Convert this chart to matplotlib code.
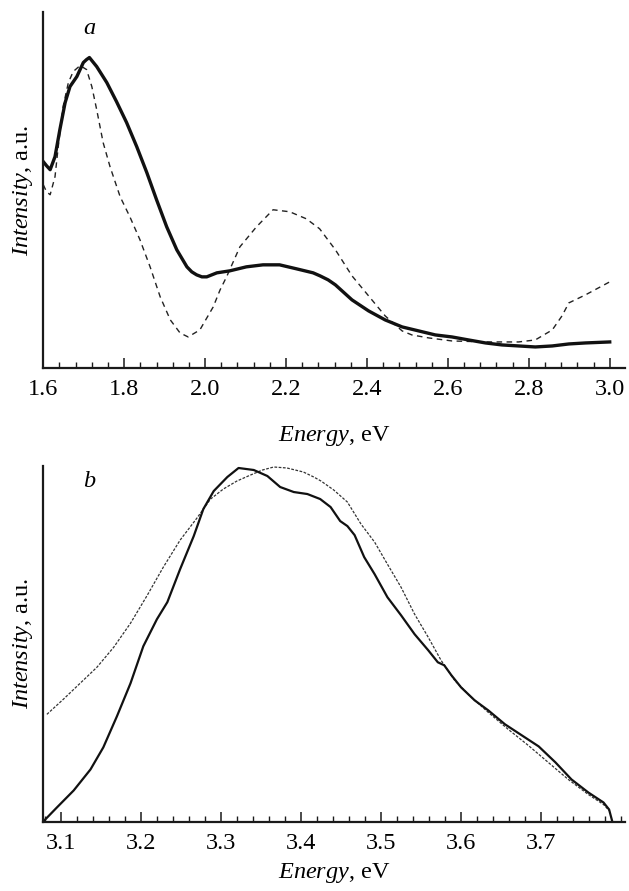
import matplotlib
matplotlib.use('Agg')
import matplotlib.pyplot as plt
from matplotlib.ticker import MultipleLocator

plt.rcParams['font.family'] = ['Liberation Serif', 'DejaVu Serif']
plt.rcParams['mathtext.fontset'] = 'custom'
plt.rcParams['mathtext.it'] = 'Liberation Serif:italic'
plt.rcParams['mathtext.rm'] = 'Liberation Serif'

# ---------------- data (panel a) ----------------
a_solid_E = [1.600, 1.608, 1.617, 1.629, 1.641, 1.654, 1.666, 1.683, 1.699, 1.707,
             1.714, 1.722, 1.732, 1.757, 1.781, 1.806, 1.831, 1.856, 1.880, 1.905,
             1.930, 1.955, 1.967, 1.979, 1.992, 2.004, 2.029, 2.061, 2.102, 2.143,
             2.184, 2.226, 2.267, 2.284, 2.304, 2.322, 2.363, 2.404, 2.445, 2.487,
             2.528, 2.569, 2.610, 2.651, 2.693, 2.734, 2.775, 2.816, 2.858, 2.899,
             2.940, 3.000]
a_solid_I = [206, 202, 198, 211, 238, 265, 281, 291, 305, 308,
             310, 306, 301, 285, 266, 245, 221, 195, 168, 141,
             118, 101, 96, 93, 91, 91, 95, 97, 101, 103,
             103, 99, 95, 92, 88, 83, 68, 57, 48, 41,
             37, 33, 31, 28, 25, 23, 22, 21, 22, 24,
             25, 26]

a_dash_E = [1.600, 1.608, 1.617, 1.629, 1.637, 1.649, 1.662, 1.674, 1.691, 1.707,
            1.720, 1.732, 1.748, 1.765, 1.790, 1.814, 1.839, 1.864, 1.889, 1.914,
            1.938, 1.958, 1.987, 2.020, 2.037, 2.053, 2.086, 2.127, 2.168, 2.209,
            2.250, 2.283, 2.322, 2.363, 2.404, 2.445, 2.487, 2.511, 2.553, 2.610,
            2.693, 2.775, 2.816, 2.858, 2.882, 2.899, 2.940, 3.000]
a_dash_I = [183, 176, 173, 191, 221, 261, 285, 296, 302, 298,
            281, 258, 225, 201, 171, 151, 128, 101, 71, 48,
            35, 31, 38, 61, 78, 91, 121, 141, 158, 156,
            149, 139, 118, 92, 72, 52, 37, 33, 30, 27,
            26, 26, 28, 38, 52, 65, 73, 86]

# ---------------- data (panel b) ----------------
b_solid_E = [3.078, 3.095, 3.116, 3.137, 3.153, 3.170, 3.187, 3.203, 3.220, 3.233,
             3.249, 3.266, 3.278, 3.291, 3.308, 3.322, 3.341, 3.358, 3.374, 3.391,
             3.408, 3.424, 3.437, 3.449, 3.458, 3.467, 3.479, 3.492, 3.508, 3.525,
             3.542, 3.559, 3.571, 3.579, 3.588, 3.600, 3.617, 3.634, 3.655, 3.676,
             3.697, 3.718, 3.738, 3.759, 3.778, 3.785, 3.789]
b_solid_I = [0, 14, 31, 52, 74, 105, 138, 175, 202, 219,
             252, 285, 312, 330, 344, 353, 351, 345, 334, 329,
             327, 322, 314, 300, 295, 286, 264, 247, 224, 206,
             187, 171, 159, 156, 146, 134, 121, 111, 97, 86,
             75, 59, 42, 29, 19, 12, 0]

b_dash_E = [3.0825, 3.103, 3.124, 3.145, 3.166, 3.187, 3.208, 3.228, 3.249, 3.270,
            3.287, 3.303, 3.320, 3.337, 3.352, 3.366, 3.3825, 3.403, 3.416, 3.425,
            3.441, 3.458, 3.475, 3.492, 3.508, 3.525, 3.542, 3.559, 3.575, 3.592,
            3.609, 3.634, 3.659, 3.684, 3.709, 3.734, 3.759, 3.778, 3.785]
b_dash_I = [107, 122, 138, 154, 174, 198, 226, 254, 281, 303,
            322, 332, 340, 346, 351, 354, 353, 349, 344, 340,
            331, 319, 297, 279, 257, 234, 207, 184, 161, 141,
            127, 109, 92, 76, 59, 42, 27, 17, 11]

a_ticks = [1.6, 1.8, 2.0, 2.2, 2.4, 2.6, 2.8, 3.0]
b_ticks = [3.1, 3.2, 3.3, 3.4, 3.5, 3.6, 3.7]

FS = 17.5
xlabel = r'$\mathit{Energy}$, eV'
ylabel = r'$\mathit{Intensity}$, a.u.'

fig = plt.figure(figsize=(6.29, 8.91), dpi=100)
ax_a = fig.add_axes([0.0688, 0.587, 0.925, 0.399])
ax_b = fig.add_axes([0.0688, 0.078, 0.925, 0.399])


def style(ax, xlim, ticks, minor, pad, lpad):
    ax.set_xlim(*xlim)
    ax.set_ylim(0, 355)
    for s in ['top', 'right']:
        ax.spines[s].set_visible(False)
    for s in ['left', 'bottom']:
        ax.spines[s].set_linewidth(1.6)
        ax.spines[s].set_color('#1a1a1a')
    ax.set_yticks([])
    ax.set_xticks(ticks)
    ax.set_xticklabels([f'{t:.1f}' for t in ticks])
    ax.xaxis.set_minor_locator(MultipleLocator(minor))
    ax.tick_params(axis='x', which='major', direction='in', length=7, width=1.1,
                   labelsize=FS, pad=pad, color='#1a1a1a')
    ax.tick_params(axis='x', which='minor', direction='in', length=4.5, width=1.0,
                   color='#1a1a1a')
    ax.set_xlabel(xlabel, fontsize=FS, labelpad=lpad)
    ax.set_ylabel(ylabel, fontsize=FS, labelpad=6)


ax_a.plot(a_dash_E, a_dash_I, color='#222222', lw=1.0, ls=(0, (4, 3.2)))
ax_a.plot(a_solid_E, a_solid_I, color='#111111', lw=2.4, solid_joinstyle='round')
style(ax_a, (1.6, 3.038), a_ticks, 0.04, 8, 17)
ax_a.text(0.080, 0.955, r'$\mathit{a}$', transform=ax_a.transAxes, fontsize=FS,
          ha='center', va='center')

ax_b.plot(b_dash_E, b_dash_I, color='#333333', lw=0.9, ls=(0, (2.2, 1.2)))
ax_b.plot(b_solid_E, b_solid_I, color='#111111', lw=1.6, solid_joinstyle='round')
style(ax_b, (3.078, 3.805), b_ticks, 0.02, 8, 5)
ax_b.text(0.080, 0.955, r'$\mathit{b}$', transform=ax_b.transAxes, fontsize=FS,
          ha='center', va='center')

fig.savefig('out.png', dpi=100)
